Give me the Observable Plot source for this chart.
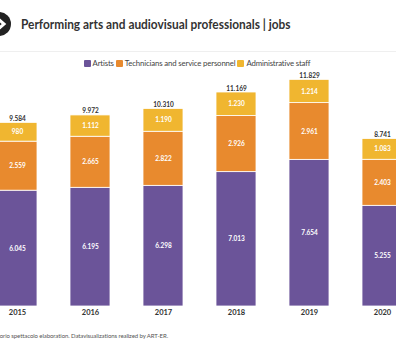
<!DOCTYPE html>
<html>
<head>
<meta charset="utf-8">
<script src="https://cdn.jsdelivr.net/npm/d3@7"></script>
<script src="https://cdn.jsdelivr.net/npm/@observablehq/plot@0.6"></script>
<style>
  html, body { margin: 0; padding: 0; background: #fff; overflow: hidden; }
  #wrap { position: relative; width: 396px; height: 360px; overflow: hidden; font-family: Lato, "Open Sans", sans-serif; }
  #chart { position: absolute; left: 0; top: 0; }
  #icon { position: absolute; left: -13px; top: 12px; }
  #title { position: absolute; left: 21px; top: 16px; font-size: 13.5px; font-weight: 700; color: #333; white-space: nowrap; transform: scaleX(0.88); transform-origin: 0 50%; }
  #rule { position: absolute; left: 0; top: 51px; width: 396px; height: 1px; background: #efefef; }
  #legend { position: absolute; left: 0; width: 396px; top: 58px; text-align: center; font-size: 7.8px; letter-spacing: -0.15px; color: #444; white-space: nowrap; }
  #legend span.sw { display: inline-block; width: 7px; height: 7px; margin-right: 2px; vertical-align: -1px; border-radius: 1px; }
  #legend span.it { margin-right: 2px; }
  #caption { position: absolute; right: 228px; top: 332px; font-size: 6px; letter-spacing: -0.08px; color: #555; white-space: nowrap; }
</style>
</head>
<body>
<div id="wrap">
  <div id="chart"></div>
  <svg id="icon" width="24" height="24" viewBox="0 0 24 24">
    <circle cx="12" cy="12" r="12" fill="#222"/>
    <path d="M10 6 L17 12 L10 18" fill="none" stroke="#fff" stroke-width="3" stroke-linejoin="miter"/>
  </svg>
  <div id="title">Performing arts and audiovisual professionals | jobs</div>
  <div id="rule"></div>
  <div id="legend"></div>
  <div id="caption">Osservatorio spettacolo elaboration. Datavisualizations realized by ART-ER.</div>
</div>
<script>
const years = ["2015", "2016", "2017", "2018", "2019", "2020"];
const artists = [6045, 6195, 6298, 7013, 7654, 5255];
const technicians = [2559, 2665, 2822, 2926, 2961, 2403];
const admin = [980, 1112, 1190, 1230, 1214, 1083];
const categories = ["Artists", "Technicians and service personnel", "Administrative staff"];
const colors = ["#6b5499", "#e88a2e", "#f0b630"];

const series = [artists, technicians, admin];
const rows = [];
years.forEach((yr, i) => {
  categories.forEach((c, k) => rows.push({year: yr, category: c, value: series[k][i]}));
});
const totals = years.map((yr, i) => ({year: yr, total: artists[i] + technicians[i] + admin[i]}));

const fmt = d3.formatLocale({decimal: ",", thousands: ".", grouping: [3], currency: ["", "€"]}).format(",d");

const plot = Plot.plot({
  width: 396,
  height: 360,
  marginTop: 0,
  marginLeft: 0,
  marginRight: 0,
  marginBottom: 54,
  style: {fontFamily: "Lato, sans-serif", overflow: "visible"},
  x: {domain: years, range: [-5, 403], paddingInner: 0.4565, paddingOuter: 0, label: null},
  y: {domain: [0, 15971], axis: null},
  color: {domain: categories, range: colors},
  marks: [
    Plot.barY(rows, {x: "year", y: "value", fill: "category", order: categories, stroke: "white", strokeWidth: 0.8}),
    Plot.text(rows, Plot.stackY({x: "year", y: "value", z: "category", order: categories, text: d => fmt(d.value), fill: "white", fontSize: 6.5, fontWeight: "bold"})),
    Plot.text(totals, {x: "year", y: "total", text: d => fmt(d.total), lineAnchor: "bottom", dy: -2, fontSize: 6.5, fontWeight: "bold", fill: "#333"}),
    Plot.axisX({tickSize: 0, tickPadding: 3, fontSize: 7.5, fontWeight: "bold", color: "#333", label: null})
  ]
});
document.getElementById("chart").appendChild(plot);

const legend = document.getElementById("legend");
categories.forEach((c, k) => {
  const sw = document.createElement("span");
  sw.className = "sw";
  sw.style.background = colors[k];
  const t = document.createElement("span");
  t.className = "it";
  t.textContent = c;
  legend.appendChild(sw);
  legend.appendChild(t);
});
</script>
</body>
</html>
